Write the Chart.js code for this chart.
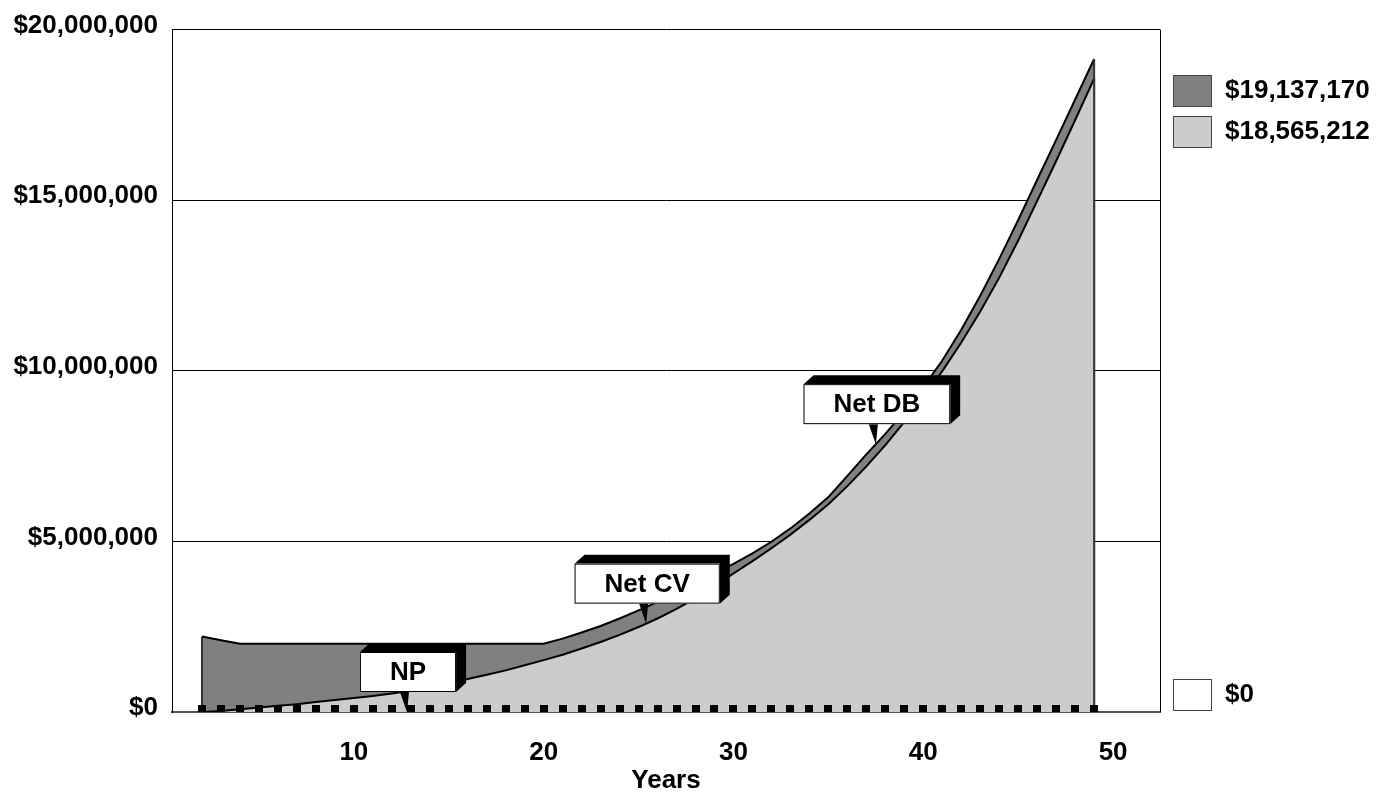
<!DOCTYPE html>
<html>
<head>
<meta charset="utf-8">
<title>Net DB / Net CV</title>
<script src="https://cdn.jsdelivr.net/npm/chart.js@4.4.1/dist/chart.umd.min.js"></script>
<style>
  html, body { margin: 0; padding: 0; background: #fff; }
  #wrap { width: 1394px; height: 794px; }
</style>
</head>
<body>
<div id="wrap"><canvas id="policyChart" width="1394" height="794"></canvas></div>
<script>
const years = [2, 3, 4, 5, 6, 7, 8, 9, 10, 11, 12, 13, 14, 15, 16, 17, 18, 19, 20, 21, 22, 23, 24, 25,
  26, 27, 28, 29, 30, 31, 32, 33, 34, 35, 36, 37, 38, 39, 40, 41, 42, 43, 44, 45, 46, 47, 48, 49];

const netDb = [2210000, 2100000, 2000000, 2000000, 2000000, 2000000, 2000000, 2000000, 2000000, 2000000,
  2000000, 2000000, 2000000, 2000000, 2000000, 2000000, 2000000, 2000000, 2000000, 2150000,
  2330000, 2520000, 2740000, 2980000, 3230000, 3500000, 3780000, 4060000, 4340000, 4650000,
  4990000, 5380000, 5820000, 6300000, 6920000, 7550000, 8150000, 8800000, 9520000, 10300000,
  11200000, 12200000, 13280000, 14420000, 15600000, 16770000, 17950000, 19137170];

const netCv = [0, 30000, 80000, 130000, 180000, 230000, 290000, 350000, 410000, 470000,
  540000, 620000, 720000, 840000, 970000, 1090000, 1220000, 1370000, 1520000, 1680000,
  1860000, 2050000, 2260000, 2490000, 2740000, 3020000, 3330000, 3680000, 4060000, 4420000,
  4800000, 5200000, 5630000, 6090000, 6620000, 7200000, 7820000, 8500000, 9220000, 9990000,
  10830000, 11740000, 12730000, 13820000, 14980000, 16150000, 17350000, 18565212];

const netPremium = [0, 0, 0, 0, 0, 0, 0, 0, 0, 0, 0, 0, 0, 0, 0, 0, 0, 0, 0, 0, 0, 0, 0, 0,
  0, 0, 0, 0, 0, 0, 0, 0, 0, 0, 0, 0, 0, 0, 0, 0, 0, 0, 0, 0, 0, 0, 0, 0];

const yTicks = [0, 5000000, 10000000, 15000000, 20000000];
const xTicks = [10, 20, 30, 40, 50];

// callouts: text, year where the pointer lands, dataset index
const calloutLabels = ['NP', 'Net CV', 'Net DB'];
const calloutYears = [12.8, 25.4, 37.5];
const calloutSeries = [0, 1, 2];

const FONT = { family: "'Liberation Sans', Arial, sans-serif", size: 26, weight: 'bold' };
const fontStr = `bold ${FONT.size}px ${FONT.family}`;

function money(v) {
  return '$' + Math.round(v).toLocaleString('en-US');
}

// small black block sitting on the base line (upper half of the image is drawn)
function makeNpMarker() {
  const c = document.createElement('canvas');
  c.width = 8;
  c.height = 14;
  const g = c.getContext('2d');
  g.fillStyle = '#000';
  g.fillRect(0, 0, 8, 7);
  return c;
}

function pixelAt(chart, dsIndex, yr) {
  const meta = chart.getDatasetMeta(dsIndex);
  const xScale = chart.scales.x;
  let i = 0;
  while (i < years.length - 2 && years[i + 1] < yr) i++;
  const a = meta.data[i], b = meta.data[i + 1];
  const t = (yr - years[i]) / (years[i + 1] - years[i]);
  return { x: xScale.getPixelForValue(yr), y: a.y + (b.y - a.y) * t };
}

const chartExtras = {
  id: 'chartExtras',
  beforeDatasetsDraw(chart) {
    const { ctx, chartArea } = chart;
    ctx.save();
    ctx.strokeStyle = '#000';
    ctx.lineWidth = 1;
    ctx.beginPath();
    ctx.moveTo(chartArea.right + 0.5, chartArea.top);
    ctx.lineTo(chartArea.right + 0.5, chartArea.bottom);
    ctx.stroke();
    ctx.restore();
  },
  afterDatasetDraw(chart, args) {
    if (args.index === 0) return;
    const { ctx } = chart;
    const pts = args.meta.data;
    const base = chart.scales.y.getPixelForValue(0);
    ctx.save();
    ctx.strokeStyle = '#333';
    ctx.lineWidth = 2;
    ctx.beginPath();
    [pts[0], pts[pts.length - 1]].forEach(p => {
      ctx.moveTo(p.x, p.y);
      ctx.lineTo(p.x, base);
    });
    ctx.stroke();
    ctx.restore();
  },
  afterDraw(chart) {
    const { ctx } = chart;
    ctx.save();
    ctx.font = fontStr;
    ctx.textBaseline = 'middle';

    // callout boxes
    calloutLabels.forEach((label, k) => {
      const tip = pixelAt(chart, calloutSeries[k], calloutYears[k]);
      const w = ctx.measureText(label).width + 60;
      const h = 40;
      const bottom = tip.y - 20;
      const top = bottom - h;
      const left = tip.x + 1 - w / 2;
      const dx = 10, dy = -9;

      ctx.fillStyle = '#000';
      ctx.beginPath();
      ctx.moveTo(tip.x - 7, bottom);
      ctx.lineTo(tip.x + 2, bottom);
      ctx.lineTo(tip.x, tip.y);
      ctx.closePath();
      ctx.fill();

      ctx.beginPath();
      ctx.moveTo(left, top);
      ctx.lineTo(left + dx, top + dy);
      ctx.lineTo(left + w + dx, top + dy);
      ctx.lineTo(left + w + dx, bottom + dy);
      ctx.lineTo(left + w, bottom);
      ctx.lineTo(left + w, top);
      ctx.closePath();
      ctx.fill();

      ctx.fillStyle = '#fff';
      ctx.fillRect(left, top, w, h);
      ctx.strokeStyle = '#000';
      ctx.lineWidth = 1;
      ctx.strokeRect(left + 0.5, top + 0.5, w - 1, h - 1);

      ctx.fillStyle = '#000';
      ctx.textAlign = 'center';
      ctx.fillText(label, left + w / 2, top + h / 2 + 1);
    });

    // legend on the right, labelled with each series' final value
    const legendRows = [
      { ds: 2, top: 75 },
      { ds: 1, top: 116 },
      { ds: 0, top: 679 }
    ];
    ctx.textAlign = 'left';
    legendRows.forEach(row => {
      const ds = chart.data.datasets[row.ds];
      const last = ds.data[ds.data.length - 1].y;
      ctx.fillStyle = ds.legendColor;
      ctx.fillRect(1173, row.top, 38, 31);
      ctx.strokeStyle = '#444';
      ctx.lineWidth = 1;
      ctx.strokeRect(1173.5, row.top + 0.5, 38, 31);
      ctx.fillStyle = '#000';
      ctx.fillText(money(last), 1225, row.top + 16);
    });
    ctx.restore();
  }
};

function buildChart() {
  const ctx = document.getElementById('policyChart').getContext('2d');
  const toPoints = arr => years.map((yr, i) => ({ x: yr, y: arr[i] }));

  new Chart(ctx, {
    type: 'line',
    data: {
      datasets: [
        {
          label: 'NP',
          data: toPoints(netPremium),
          showLine: false,
          pointStyle: makeNpMarker(),
          pointRadius: 4,
          clip: false,
          order: 0,
          legendColor: '#fff'
        },
        {
          label: 'Net CV',
          data: toPoints(netCv),
          borderColor: '#000',
          borderWidth: 2,
          backgroundColor: '#cccccc',
          fill: 'origin',
          pointRadius: 0,
          tension: 0,
          order: 1,
          legendColor: '#cccccc'
        },
        {
          label: 'Net DB',
          data: toPoints(netDb),
          borderColor: '#000',
          borderWidth: 2,
          backgroundColor: '#808080',
          fill: 'origin',
          pointRadius: 0,
          tension: 0,
          order: 2,
          legendColor: '#808080'
        }
      ]
    },
    options: {
      responsive: false,
      animation: false,
      devicePixelRatio: 1,
      layout: { padding: { top: 28, right: 234, left: 0, bottom: 0 } },
      plugins: {
        legend: { display: false },
        tooltip: { enabled: false }
      },
      scales: {
        x: {
          type: 'linear',
          min: 0.42,
          max: 52.47,
          afterFit: s => { s.height = 82; },
          afterBuildTicks: s => { s.ticks = xTicks.map(v => ({ value: v })); },
          grid: { display: false, drawTicks: false },
          border: { display: true, color: '#555', width: 2 },
          ticks: {
            padding: 25,
            color: '#000',
            font: FONT,
            maxRotation: 0,
            autoSkip: false,
            callback: v => String(v)
          },
          title: { display: true, text: 'Years', color: '#000', font: FONT, padding: { top: 0, bottom: -2 } }
        },
        y: {
          min: 0,
          max: 20000000,
          afterFit: s => { s.width = 172; },
          afterBuildTicks: s => { s.ticks = yTicks.map(v => ({ value: v })); },
          grid: {
            drawTicks: false,
            lineWidth: 1,
            color: c => (c.tick && c.tick.value === 0 ? 'rgba(0,0,0,0)' : '#000')
          },
          border: { display: true, color: '#000', width: 1 },
          ticks: {
            padding: 14,
            labelOffset: -4,
            color: '#000',
            font: FONT,
            callback: v => money(v)
          }
        }
      }
    },
    plugins: [chartExtras]
  });
}

buildChart();
</script>
</body>
</html>
